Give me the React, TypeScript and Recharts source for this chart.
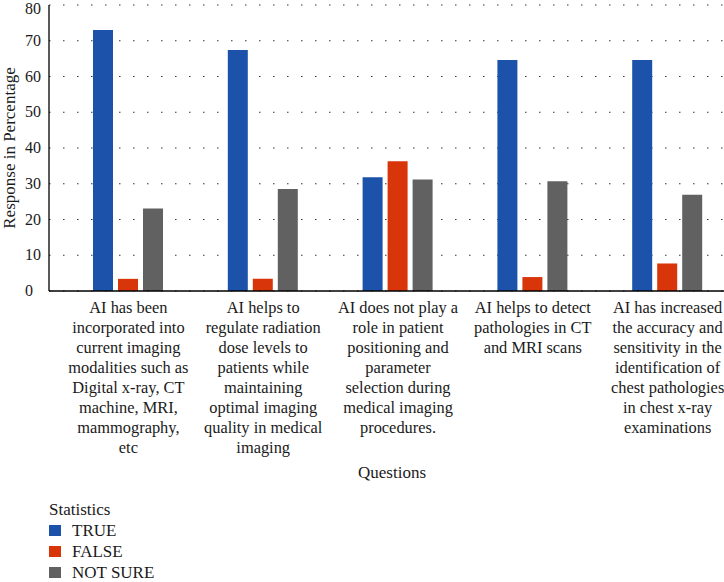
import React from 'react'
import { BarChart, Bar, XAxis, YAxis, CartesianGrid, Legend } from 'recharts'

const questions = [
  'AI has been\nincorporated into\ncurrent imaging\nmodalities such as\nDigital x-ray, CT\nmachine, MRI,\nmammography,\netc',
  'AI helps to\nregulate radiation\ndose levels to\npatients while\nmaintaining\noptimal imaging\nquality in medical\nimaging',
  'AI does not play a\nrole in patient\npositioning and\nparameter\nselection during\nmedical imaging\nprocedures.',
  'AI helps to detect\npathologies in CT\nand MRI scans',
  'AI has increased\nthe accuracy and\nsensitivity in the\nidentification of\nchest pathologies\nin chest x-ray\nexaminations',
]
const trueValues = [73, 67.4, 31.8, 64.6, 64.6]
const falseValues = [3.4, 3.4, 36.3, 3.9, 7.7]
const notSureValues = [23.1, 28.5, 31.2, 30.7, 26.9]
const yTicks = [0, 10, 20, 30, 40, 50, 60, 70, 80]

const series = [
  { key: 'trueVal', name: 'TRUE', color: '#1c52a9' },
  { key: 'falseVal', name: 'FALSE', color: '#d9350b' },
  { key: 'notSure', name: 'NOT SURE', color: '#616161' },
]

const data = questions.map((q, i) => ({
  question: q,
  trueVal: trueValues[i],
  falseVal: falseValues[i],
  notSure: notSureValues[i],
}))

const FONT = 'Liberation Serif, Times New Roman, DejaVu Serif, serif'

// eslint-disable-next-line @typescript-eslint/no-explicit-any
const QuestionTick = ({ x, y, payload }: any) => {
  const lines = String(payload.value).split('\n')
  return (
    <text x={x} y={y} textAnchor="middle" style={{ fontFamily: FONT, fontSize: 16.4 }} fill="#1a1a1a">
      {lines.map((line, i) => (
        <tspan key={i} x={x} y={y + 20 + i * 20}>{line}</tspan>
      ))}
    </text>
  )
}

// eslint-disable-next-line @typescript-eslint/no-explicit-any
const PercentTick = ({ y, payload }: any) => (
  <text x={25} y={y + 5} textAnchor="start" style={{ fontFamily: FONT, fontSize: 16 }} fill="#1a1a1a">
    {payload.value}
  </text>
)

const StatsLegend = () => (
  <div style={{ fontFamily: FONT, fontSize: 17, color: '#1a1a1a', lineHeight: '21px' }}>
    <div>Statistics</div>
    {series.map((s) => (
      <div key={s.key} style={{ display: 'flex', alignItems: 'center' }}>
        <span style={{ display: 'inline-block', width: 12, height: 11, background: s.color, marginRight: 11 }} />
        <span>{s.name}</span>
      </div>
    ))}
  </div>
)

export default function App() {
  return (
    <div style={{ position: 'absolute', left: 0, top: 0, width: 724, height: 582, overflow: 'hidden', background: '#fff' }}>
      <BarChart
        width={736}
        height={582}
        data={data}
        margin={{ top: 5, right: 1, bottom: 0, left: 0 }}
        barSize={20}
        barGap={5}
      >
        <CartesianGrid vertical={false} stroke="#333" strokeDasharray="1.5 12.5" />
        <XAxis
          dataKey="question"
          height={291}
          interval={0}
          tickLine={false}
          tickSize={0}
          tick={<QuestionTick />}
          axisLine={{ stroke: '#000', strokeWidth: 1.3 }}
          padding={{ left: 12, right: 0 }}
          label={{ value: 'Questions', position: 'insideTop', offset: 175, style: { fontFamily: FONT, fontSize: 17, fill: '#1a1a1a' } }}
        />
        <YAxis
          width={49}
          domain={[0, 80]}
          ticks={yTicks}
          tickLine={false}
          tick={<PercentTick />}
          axisLine={{ stroke: '#000', strokeWidth: 1.3 }}
          label={{ value: 'Response in Percentage', angle: -90, position: 'insideLeft', offset: 9, style: { textAnchor: 'middle', fontFamily: FONT, fontSize: 17, fill: '#1a1a1a' } }}
        />
        <Legend
          layout="vertical"
          align="center"
          verticalAlign="middle"
          content={<StatsLegend />}
          wrapperStyle={{ left: 49, top: 499, width: 'auto' }}
        />
        {series.map((s) => (
          <Bar key={s.key} dataKey={s.key} name={s.name} fill={s.color} isAnimationActive={false} />
        ))}
      </BarChart>
    </div>
  )
}
